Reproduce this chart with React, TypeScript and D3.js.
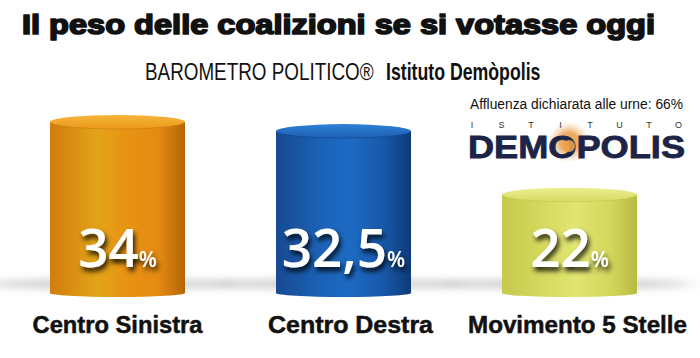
import React from "react";
import * as d3 from "d3";

const categories = ["Centro Sinistra", "Centro Destra", "Movimento 5 Stelle"];
const values = [34, 32.5, 22];
const valueLabels = ["34", "32,5", "22"];
const title = "Il peso delle coalizioni se si votasse oggi";
const subtitleA = "BAROMETRO POLITICO®";
const subtitleB = "Istituto Demòpolis";
const turnoutNote = "Affluenza dichiarata alle urne: 66%";
const logoTop = ["I", "S", "T", "I", "T", "U", "T", "O"];
const logoMain = "DEMOPOLIS";

const palettes = [
  { stops: ["#d27c0c", "#e2a418", "#e79414", "#e58a12", "#b56507"], top: ["#f6b43a", "#e99a1a"] },
  { stops: ["#174a92", "#1b63b8", "#1d6ac4", "#1858a8", "#0e3a78"], top: ["#2f80d6", "#1c5fb4"] },
  { stops: ["#c5c94c", "#d7dc62", "#e1e572", "#d3d75c", "#b8bb42"], top: ["#ecef8e", "#d6da62"] },
];
const labelWidths = [170, 165, 219];
const labelShift = [0, 7, 8];

const W = 700;
const H = 358;

export default function App() {
  const x = d3.scalePoint<string>().domain(categories).range([117.5, 569.5]);
  const y = d3.scaleLinear().domain([4, 34]).range([297, 115]);
  const bw = 135;
  const ry = 7;
  const bottom = y(4);

  return (
    <svg width={W} height={H} style={{ position: "absolute", left: 0, top: 0, background: "#fff" }}>
      <defs>
        {palettes.map((p, i) => (
          <linearGradient key={"g" + i} id={"body" + i} x1="0" x2="1" y1="0" y2="0">
            {p.stops.map((c, j) => (
              <stop key={j} offset={[0, 0.35, 0.55, 0.8, 1][j]} stopColor={c} />
            ))}
          </linearGradient>
        ))}
        {palettes.map((p, i) => (
          <linearGradient key={"t" + i} id={"top" + i} x1="0" x2="0" y1="0" y2="1">
            <stop offset="0" stopColor={p.top[0]} />
            <stop offset="1" stopColor={p.top[1]} />
          </linearGradient>
        ))}
        <filter id="blurShadow" x="-50%" y="-300%" width="200%" height="700%">
          <feGaussianBlur stdDeviation="9 4" />
        </filter>
        <filter id="txtShadow" x="-30%" y="-30%" width="160%" height="180%">
          <feDropShadow dx="2" dy="4" stdDeviation="2.5" floodColor="#000" floodOpacity="0.85" />
        </filter>
        <radialGradient id="glow">
          <stop offset="0" stopColor="#f0a040" stopOpacity="1" />
          <stop offset="0.45" stopColor="#e8a050" stopOpacity="0.85" />
          <stop offset="1" stopColor="#f3d2a8" stopOpacity="0" />
        </radialGradient>
      </defs>

      {/* Title */}
      <text
        x={22}
        y={34}
        textLength={633}
        lengthAdjust="spacingAndGlyphs"
        fontFamily="'Liberation Sans', Arial, sans-serif"
        fontWeight={900}
        fontSize={28}
        fill="#111"
        stroke="#111"
        strokeWidth={1.7}
        strokeLinejoin="round"
      >
        {title}
      </text>

      {/* Subtitle */}
      <text
        transform="translate(145,80) scale(0.82,1)"
        fontFamily="'Liberation Sans', Arial, sans-serif"
        fontSize={23}
        fill="#111"
      >
        {subtitleA}
      </text>
      <text
        transform="translate(386,80) scale(0.77,1)"
        fontFamily="'Liberation Sans', Arial, sans-serif"
        fontWeight={700}
        fontSize={23}
        fill="#111"
      >
        {subtitleB}
      </text>

      {/* Turnout */}
      <text
        x={470}
        y={109}
        textLength={213}
        lengthAdjust="spacingAndGlyphs"
        fontFamily="'Liberation Sans', Arial, sans-serif"
        fontSize={14}
        fill="#111"
      >
        {turnoutNote}
      </text>

      {/* Logo */}
      <circle cx={569} cy={142} r={21} fill="url(#glow)" />
      {logoTop.map((c, i) => (
        <text
          key={i}
          x={472 + i * 29.5}
          y={128}
          textAnchor="middle"
          fontFamily="'Liberation Sans', Arial, sans-serif"
          fontSize={9}
          fill="#333"
        >
          {c}
        </text>
      ))}
      <text
        x={468}
        y={158}
        textLength={217}
        lengthAdjust="spacingAndGlyphs"
        fontFamily="'Liberation Sans', Arial, sans-serif"
        fontWeight={900}
        fontSize={31}
        fill="#1c2448"
        stroke="#1c2448"
        strokeWidth={0.8}
      >
        {logoMain}
      </text>
      <circle cx={569} cy={146} r={6} fill="#eda24a" opacity={0.9} />

      {/* Shadows */}
      {categories.map((c, i) => (
        <ellipse
          key={"s" + i}
          cx={x(c)! - 5}
          cy={bottom - 13}
          rx={bw * 0.95}
          ry={4}
          fill="#666"
          opacity={0.4}
          filter="url(#blurShadow)"
        />
      ))}

      {/* Cylinders */}
      {categories.map((c, i) => {
        const cx = x(c)!;
        const x0 = cx - bw / 2;
        const x1 = cx + bw / 2;
        const topY = y(values[i]);
        const cy = topY + ry;
        const bodyPath = `M${x0},${cy} L${x0},${bottom - 4} A${bw / 2},4 0 0 0 ${x1},${bottom - 4} L${x1},${cy} Z`;
        return (
          <g key={"c" + i}>
            <path d={bodyPath} fill={`url(#body${i})`} />
            <ellipse cx={cx} cy={cy} rx={bw / 2} ry={ry} fill={`url(#top${i})`} />
            <path
              d={`M${x0},${cy} A${bw / 2},${ry} 0 0 0 ${x1},${cy}`}
              fill="none"
              stroke={palettes[i].stops[4]}
              strokeOpacity={0.35}
              strokeWidth={1}
            />
          </g>
        );
      })}

      {/* Value labels */}
      {categories.map((c, i) => (
        <text
          key={"v" + i}
          x={x(c)!}
          y={267}
          textAnchor="middle"
          fontFamily="'Open Sans', 'Liberation Sans', sans-serif"
          fontWeight={600}
          fill="#fff"
          filter="url(#txtShadow)"
        >
          <tspan fontSize={53}>{valueLabels[i]}</tspan>
          <tspan fontSize={21}>%</tspan>
        </text>
      ))}

      {/* Category labels */}
      {categories.map((c, i) => (
        <text
          key={"l" + i}
          x={x(c)! + labelShift[i]}
          y={333}
          textAnchor="middle"
          textLength={labelWidths[i]}
          lengthAdjust="spacingAndGlyphs"
          fontFamily="'Liberation Sans', Arial, sans-serif"
          fontWeight={700}
          fontSize={24}
          fill="#111"
          stroke="#111"
          strokeWidth={0.5}
        >
          {c}
        </text>
      ))}
    </svg>
  );
}
